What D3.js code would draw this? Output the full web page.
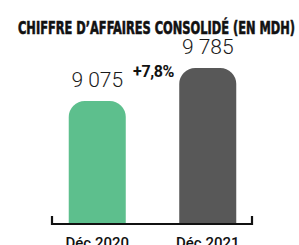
<!DOCTYPE html>
<html>
<head>
<meta charset="utf-8">
<script src="https://cdn.jsdelivr.net/npm/d3@7"></script>
<style>
  body { margin: 0; background: #fff; }
  svg { display: block; }
</style>
</head>
<body>
<svg width="299" height="245"></svg>
<script>
const svg = d3.select("svg");

const title = "CHIFFRE D\u2019AFFAIRES CONSOLIDÉ (EN MDH)";
const periods = ["Déc 2020", "Déc 2021"];
const values = [9075, 9785];
const valueLabels = ["9 075", "9 785"];
const growthLabel = "+7,8%";
const colors = ["#5dbf8d", "#585858"];

const baseY = 224;

const x = d3.scaleBand()
    .domain(periods)
    .range([42, 263])
    .paddingInner(0.484)
    .paddingOuter(0.242);

const y = d3.scaleLinear()
    .domain([6430, 9785])
    .range([baseY, 68]);

svg.append("text")
    .attr("x", 18)
    .attr("y", 33.5)
    .attr("textLength", 277)
    .attr("lengthAdjust", "spacingAndGlyphs")
    .style("font-family", "'DejaVu Sans', sans-serif")
    .style("font-stretch", "condensed")
    .style("font-weight", "bold")
    .style("font-size", "18px")
    .attr("fill", "#111")
    .attr("stroke", "#111")
    .attr("stroke-width", 0.6)
    .text(title);

function topRounded(x0, y0, w, h, r) {
    return `M${x0},${y0 + h}V${y0 + r}A${r},${r} 0 0 1 ${x0 + r},${y0}` +
        `H${x0 + w - r}A${r},${r} 0 0 1 ${x0 + w},${y0 + r}V${y0 + h}Z`;
}

svg.selectAll("path.bar")
    .data(periods)
    .join("path")
    .attr("class", "bar")
    .attr("fill", (d, i) => colors[i])
    .attr("d", (d, i) => topRounded(x(d), y(values[i]), x.bandwidth(), baseY - y(values[i]), 16));

svg.selectAll("text.val")
    .data(periods)
    .join("text")
    .attr("class", "val")
    .attr("x", d => x(d) + x.bandwidth() / 2)
    .attr("y", (d, i) => y(values[i]) - 14)
    .attr("text-anchor", "middle")
    .style("font-family", "Roboto, sans-serif")
    .style("font-weight", 300)
    .style("font-size", "21px")
    .attr("fill", "#1a1a1a")
    .text((d, i) => valueLabels[i]);

svg.append("text")
    .attr("x", (x(periods[0]) + x.bandwidth() + x(periods[1])) / 2 + 1)
    .attr("y", 76.5)
    .attr("text-anchor", "middle")
    .style("font-family", "Roboto, sans-serif")
    .style("font-weight", "bold")
    .style("font-size", "16px")
    .style("letter-spacing", "-0.4px")
    .attr("fill", "#111")
    .text(growthLabel);

// bracket axis
svg.append("path")
    .attr("d", `M52,216V${baseY}H252V216`)
    .attr("fill", "none")
    .attr("stroke", "#111")
    .attr("stroke-width", 2.2);

const axis = svg.append("g")
    .attr("transform", `translate(0,${baseY})`)
    .call(d3.axisBottom(x).tickSize(0).tickPadding(13));
axis.select(".domain").remove();
axis.selectAll("text")
    .style("font-family", "Roboto, sans-serif")
    .style("font-weight", 500)
    .style("font-size", "15px")
    .attr("fill", "#111");
</script>
</body>
</html>
